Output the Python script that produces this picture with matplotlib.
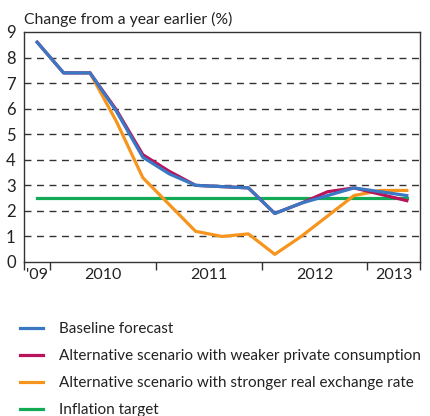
import numpy as np
import matplotlib.pyplot as plt

# quarterly data, 2009 Q4 - 2013 Q2
quarters = ["2009Q4",
            "2010Q1", "2010Q2", "2010Q3", "2010Q4",
            "2011Q1", "2011Q2", "2011Q3", "2011Q4",
            "2012Q1", "2012Q2", "2012Q3", "2012Q4",
            "2013Q1", "2013Q2"]
baseline = [8.6, 7.4, 7.4, 5.9, 4.1, 3.45, 3.0, 2.95, 2.9, 1.9, 2.3, 2.6, 2.9, 2.75, 2.6]
weaker_cons = [8.6, 7.4, 7.4, 5.95, 4.2, 3.55, 3.0, 2.95, 2.9, 1.9, 2.3, 2.75, 2.9, 2.65, 2.4]
# stronger exchange rate scenario starts from 2010 Q2
stronger_fx = [np.nan, np.nan, 7.4, 5.5, 3.3, 2.25, 1.2, 1.0, 1.1, 0.3, 1.0, 1.8, 2.6, 2.8, 2.8]
target = [2.5] * len(quarters)

year_labels = ["'09", "2010", "2011", "2012", "2013"]
yticks = list(range(0, 10))

c_blue = "#3a78c3"
c_pink = "#b9135c"
c_orange = "#f7941d"
c_green = "#12aa55"

plt.rcParams['font.family'] = ['Lato', 'DejaVu Sans']

W, H = 431, 416
fig = plt.figure(figsize=(W / 100, H / 100), dpi=100)
ax = fig.add_axes([24 / W, (H - 262) / H, 396 / W, 230 / H])

x = np.arange(len(quarters))
ax.plot(x, target, color=c_green, lw=2.3, label="Inflation target", zorder=3)
ax.plot(x, stronger_fx, color=c_orange, lw=2.3,
        label="Alternative scenario with stronger real exchange rate", zorder=4)
ax.plot(x, weaker_cons, color=c_pink, lw=2.3,
        label="Alternative scenario with weaker private consumption", zorder=5)
ax.plot(x, baseline, color=c_blue, lw=2.3, label="Baseline forecast", zorder=6)

ax.set_xlim(-0.5, len(quarters) - 0.5)
ax.set_ylim(0, 9)

for v in range(1, 9):
    ax.axhline(v, color="#333333", lw=1.0, ls=(0, (5, 4)), zorder=1)

# year boundaries as ticks, year names in between
years = [q[:4] for q in quarters]
bounds = [-0.5] + [i - 0.5 for i in range(1, len(years)) if years[i] != years[i - 1]] + [len(years) - 0.5]
centers = [(bounds[i] + bounds[i + 1]) / 2 for i in range(len(bounds) - 1)]
ax.set_xticks(bounds)
ax.set_xticklabels([])
ax.set_xticks(centers, minor=True)
ax.set_xticklabels(year_labels, minor=True)
ax.tick_params(axis="x", which="major", length=6, width=1, color="#333333", direction="out")
ax.tick_params(axis="x", which="minor", length=0, labelsize=11.5, pad=4, colors="#222222")

ax.set_yticks(yticks)
ax.tick_params(axis="y", length=0, labelsize=12, pad=6, colors="#222222")

for s in ax.spines.values():
    s.set_color("#333333")
    s.set_linewidth(1.0)

fig.text(24 / W, 1 - 19 / H, "Change from a year earlier (%)", fontsize=11.3,
         color="#222222", va="center", ha="left")

handles, labels = ax.get_legend_handles_labels()
order = [3, 2, 1, 0]
fig.legend([handles[i] for i in order], [labels[i] for i in order],
           loc="upper left", bbox_to_anchor=(20 / W, 1 - 322 / H),
           frameon=False, fontsize=11.0, handlelength=1.5, handletextpad=1.05,
           labelspacing=0.86, borderpad=0, borderaxespad=0, labelcolor="#222222")

fig.savefig("out.png", dpi=100)
